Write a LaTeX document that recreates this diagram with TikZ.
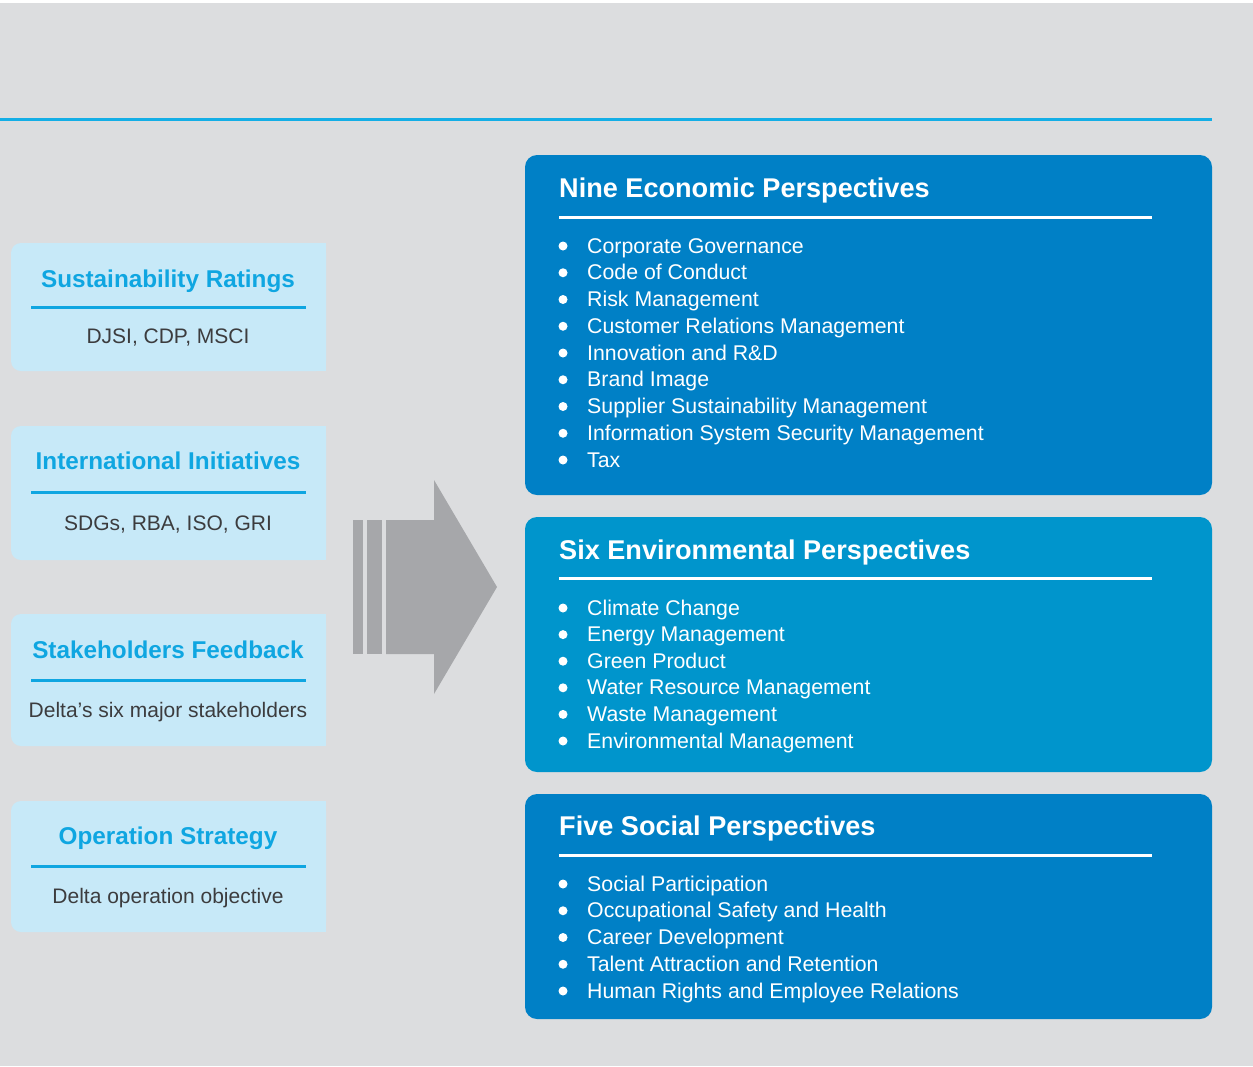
\documentclass[tikz,border=0pt]{standalone}
\usepackage{fontspec}
\setmainfont{Liberation Sans}
\usetikzlibrary{positioning}

\definecolor{bgGrey}{HTML}{DCDDDF}
\definecolor{topLine}{HTML}{14AEE6}
\definecolor{panelBlue}{HTML}{0080C6}
\definecolor{panelCyan}{HTML}{0095CC}
\definecolor{srcFill}{HTML}{C7E9F8}
\definecolor{srcTitle}{HTML}{0FA6E1}
\definecolor{srcText}{HTML}{3C3C3E}
\definecolor{arrowGrey}{HTML}{A6A7AA}

\begin{document}
\begin{tikzpicture}[x=1pt,y=-1pt,
  srcbox/.style={fill=srcFill, rounded corners=10pt, minimum width=315pt, inner sep=0pt},
  srchead/.style={text=srcTitle, anchor=base, inner sep=0pt, font=\fontsize{24.3}{28}\selectfont\bfseries},
  srcbody/.style={text=srcText, anchor=base, inner sep=0pt, font=\fontsize{21}{25}\selectfont},
  srcrule/.style={srcTitle, line width=3pt},
  panel/.style={rounded corners=12pt, minimum width=687pt, inner sep=0pt},
  panelhead/.style={text=white, anchor=base west, inner sep=0pt, font=\fontsize{27.1}{32}\selectfont\bfseries},
  panelrule/.style={white, line width=3pt},
  item/.style={text=white, anchor=base west, inner sep=0pt, font=\fontsize{21.3}{25}\selectfont},
]
\useasboundingbox (0,0) rectangle (1253,1066);
\fill[white] (0,0) rectangle (1253,1066);
\fill[bgGrey] (0,3) rectangle (1253,1066);
\draw[topLine, line width=3pt] (0,119.5) -- (1212,119.5);

% left column
\node[srcbox, minimum height=128pt] (ratings) at (168.5,307) {};
\fill[srcFill] (ratings.north) rectangle (ratings.south east);
\node[srchead] (ratingsHead) at (168,287) {Sustainability Ratings};
\draw[srcrule] (31,307) -- (306,307);
\node[srcbody] (ratingsBody) at (168,343) {DJSI, CDP, MSCI};

\node[srcbox, minimum height=134pt] (initiatives) at (168.5,493) {};
\fill[srcFill] (initiatives.north) rectangle (initiatives.south east);
\node[srchead] (initiativesHead) at (168,469) {International Initiatives};
\draw[srcrule] (31,492) -- (306,492);
\node[srcbody] (initiativesBody) at (168,530.5) {SDGs, RBA, ISO, GRI};

\node[srcbox, minimum height=132pt] (feedback) at (168.5,680) {};
\fill[srcFill] (feedback.north) rectangle (feedback.south east);
\node[srchead] (feedbackHead) at (168,658) {Stakeholders Feedback};
\draw[srcrule] (31,680) -- (306,680);
\node[srcbody] (feedbackBody) at (168,717.5) {Delta’s six major stakeholders};

\node[srcbox, minimum height=131pt] (strategy) at (168.5,866.5) {};
\fill[srcFill] (strategy.north) rectangle (strategy.south east);
\node[srchead] (strategyHead) at (168,844) {Operation Strategy};
\draw[srcrule] (31,866) -- (306,866);
\node[srcbody] (strategyBody) at (168,903) {Delta operation objective};

% arrow
\fill[arrowGrey] (353,520) rectangle (363,654);
\fill[arrowGrey] (367,520) rectangle (382,654);
\fill[arrowGrey] (386,520) -- (434,520) -- (434,480) -- (497,587) -- (434,694)
  -- (434,654) -- (386,654) -- cycle;

% right column
\node[panel, fill=panelBlue, minimum height=340pt] (econ) at (868.5,325) {};
\node[panelhead] (econHead) at (559,197) {Nine Economic Perspectives};
\draw[panelrule] (559,217) -- (1152,217);
\foreach \txt [count=\i] in {Corporate Governance, Code of Conduct, Risk Management,
  Customer Relations Management, Innovation and R\&D, Brand Image,
  Supplier Sustainability Management, Information System Security Management, Tax} {
  \node[item] (econ\i) at (587,{253+26.75*(\i-1)}) {\txt};
  \fill[white] ([xshift=-24pt,yshift=7pt]econ\i.base west) circle (4.5pt);
}

\node[panel, fill=panelCyan, minimum height=255pt] (env) at (868.5,644.5) {};
\node[panelhead] (envHead) at (559,559) {Six Environmental Perspectives};
\draw[panelrule] (559,578) -- (1152,578);
\foreach \txt [count=\i] in {Climate Change, Energy Management, Green Product,
  Water Resource Management, Waste Management, Environmental Management} {
  \node[item] (env\i) at (587,{615+26.6*(\i-1)}) {\txt};
  \fill[white] ([xshift=-24pt,yshift=7pt]env\i.base west) circle (4.5pt);
}

\node[panel, fill=panelBlue, minimum height=225pt] (social) at (868.5,906.5) {};
\node[panelhead] (socialHead) at (559,835) {Five Social Perspectives};
\draw[panelrule] (559,855) -- (1152,855);
\foreach \txt [count=\i] in {Social Participation, Occupational Safety and Health,
  Career Development, Talent Attraction and Retention, Human Rights and Employee Relations} {
  \node[item] (social\i) at (587,{891+26.75*(\i-1)}) {\txt};
  \fill[white] ([xshift=-24pt,yshift=7pt]social\i.base west) circle (4.5pt);
}
\end{tikzpicture}
\end{document}
